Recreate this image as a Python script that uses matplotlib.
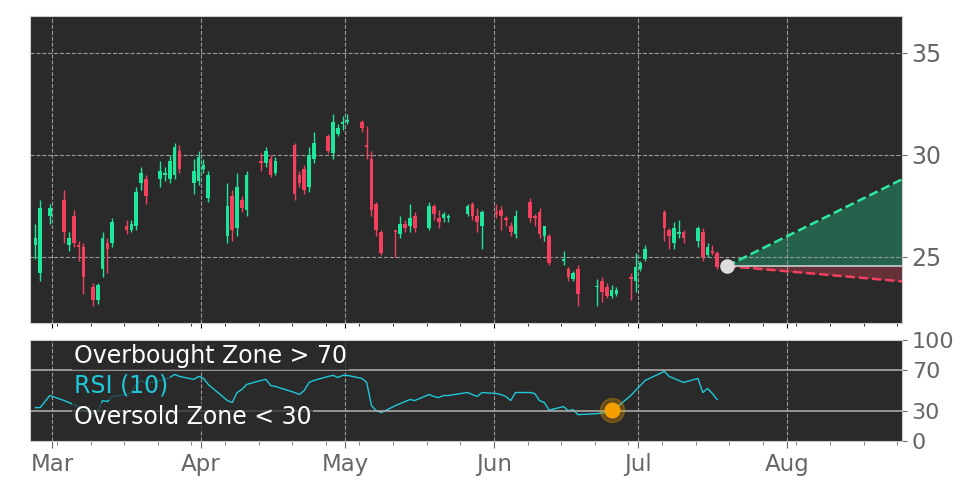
import matplotlib
matplotlib.use("Agg")
import matplotlib.pyplot as plt
import numpy as np
import pandas as pd

base_date = pd.Timestamp("2020-03-01")
day_offsets = [-4,-3,-1,2,3,4,5,6,8,9,10,11,12,15,16,17,18,19,22,23,24,25,26,29,30,31,32,
               36,37,38,39,40,43,44,45,46,50,51,52,53,54,57,58,59,60,61,64,65,66,67,68,
               71,72,73,74,75,78,79,80,81,82,86,87,88,89,92,93,94,95,96,99,100,101,102,103,
               106,107,108,109,113,114,115,116,117,120,121,122,123,127,128,129,130,131,
               134,135,136,137,138]
opens = [25.6,24.2,27.0,27.8,25.6,27.0,25.6,25.5,23.5,22.9,24.4,25.7,25.7,26.5,26.3,26.5,28.6,28.8,
         28.8,29.0,28.8,29.0,30.2,28.6,28.7,29.3,27.9,26.0,28.0,26.4,27.8,27.3,29.7,29.6,29.8,29.1,
         30.5,29.0,29.3,28.4,29.8,30.9,30.1,31.0,31.5,31.6,31.6,30.5,29.8,27.6,26.2,
         26.3,26.1,26.6,26.5,27.0,26.4,27.5,26.9,26.9,26.9,27.1,27.6,27.0,26.5,
         27.2,27.3,26.9,26.5,26.1,27.7,27.0,27.2,26.0,26.0,
         24.8,24.4,23.9,24.4,23.5,23.8,23.5,23.1,23.2,24.0,23.8,24.4,24.9,
         27.2,26.3,25.7,26.1,26.2,25.8,26.2,25.1,25.3,25.2]
closes = [25.9,27.4,27.4,26.2,25.9,25.7,25.5,24.0,22.9,23.6,25.9,25.4,26.7,26.3,26.6,28.2,29.1,28.0,
          29.2,29.1,29.7,30.4,29.3,29.2,29.9,29.5,29.0,27.5,26.3,28.4,27.4,29.0,29.6,30.2,29.0,29.7,
          28.1,28.6,28.3,30.0,30.6,30.2,31.6,31.3,31.6,31.7,31.3,30.4,27.3,26.3,25.2,
          26.2,26.6,26.4,26.9,26.4,27.5,27.1,26.7,27.1,27.0,27.5,27.0,26.7,27.2,
          27.1,27.0,26.8,26.2,27.0,26.9,26.9,26.1,26.5,24.7,
          24.9,24.0,24.2,23.2,23.5,23.3,23.1,23.4,23.4,23.9,24.5,24.7,25.4,
          26.4,26.0,26.4,26.2,25.9,26.4,25.0,25.5,25.2,24.5]
highs = [26.6,27.8,27.6,28.3,26.2,27.3,25.8,25.7,23.7,23.7,26.2,25.9,26.9,26.8,26.8,28.4,29.4,29.0,
         29.7,29.4,30.0,30.6,30.5,29.8,30.2,29.8,29.2,28.6,28.3,29.1,28.0,29.2,30.1,30.4,30.0,29.9,
         30.6,29.2,29.5,30.4,31.1,31.0,32.0,31.5,31.9,32.0,31.7,31.4,30.2,27.7,26.3,
         26.3,27.0,26.8,27.6,27.2,27.7,27.6,27.3,27.2,27.1,27.6,27.7,27.4,27.3,
         27.6,27.5,27.0,26.7,27.3,27.9,27.1,27.4,26.3,26.1,
         25.3,24.5,24.3,24.6,23.9,24.0,23.7,23.6,23.5,24.2,25.2,24.8,25.6,
         27.3,26.4,26.7,26.8,26.3,26.5,26.4,25.7,25.6,25.3]
lows = [24.9,23.8,26.6,25.7,25.3,25.5,24.8,23.2,22.6,22.7,24.0,24.2,25.5,26.1,26.2,26.3,28.3,27.6,
        28.4,28.7,28.6,28.8,29.1,28.1,28.5,29.1,27.7,25.7,25.8,26.0,27.2,27.0,29.2,29.4,28.9,29.0,
        27.8,28.4,28.1,28.2,29.6,30.1,29.8,30.9,31.2,31.5,31.1,29.8,27.0,26.0,25.1,
        25.0,25.9,26.2,26.2,26.2,26.3,26.8,26.4,26.7,26.7,27.0,26.8,26.2,25.4,
        26.9,26.3,26.5,26.0,25.9,26.7,26.5,25.9,25.8,24.6,
        24.6,23.8,23.8,22.6,22.6,22.8,23.0,23.0,23.1,22.9,23.3,24.3,24.8,
        25.8,25.4,25.4,25.9,25.7,25.5,24.8,25.0,25.1,24.4]
rsi = [33,33,45,40,38,36,34,31,27,30,40,39,44,46,48,56,60,57,60,61,63,66,64,61,64,62,56,
       40,38,48,51,56,60,61,55,54,48,46,50,58,60,64,65,63,65,65,62,58,35,30,28,
       35,37,39,41,40,46,44,43,45,45,48,46,44,48,47,46,44,40,48,48,47,40,38,30.5,
       34,30,31,26,27,27.6,28,31,33,45,50,55,60,69,64,62,60,58,62,48,52,47,41]
rsi_signal_day = 116
rsi_signal_value = 31
forecast_days = [140.5, 177]
forecast_start = 24.55
forecast_upper = 28.8
forecast_lower = 23.8
month_labels = ["Mar", "Apr", "May", "Jun", "Jul", "Aug"]

dates = [base_date + pd.Timedelta(days=d + 0.5) for d in day_offsets]
x = matplotlib.dates.date2num(dates)
fd = matplotlib.dates.date2num([base_date + pd.Timedelta(days=d) for d in forecast_days])

BG = "#2a2a2a"
GREEN = "#1ee69a"
RED = "#f2405d"
TXT = "#666666"

fig = plt.figure(figsize=(9.72, 4.86), dpi=100)
ax = fig.add_axes([0.031, 0.335, 0.897, 0.632])
ax2 = fig.add_axes([0.031, 0.093, 0.897, 0.207], sharex=ax)
for a in (ax, ax2):
    a.set_facecolor(BG)
    for s in a.spines.values():
        s.set_color("#cccccc")

for xi, o, h, l, c in zip(x, opens, highs, lows, closes):
    col = GREEN if c >= o else RED
    ax.vlines(xi, l, h, color=col, lw=1, zorder=3)
    ax.bar(xi, max(abs(c - o), 0.08), bottom=min(o, c), width=0.75, color=col, zorder=4)

ax.plot(fd, [forecast_start, forecast_upper], ls="--", color="#2ee8a0", lw=1.8, zorder=5)
ax.plot(fd, [forecast_start, forecast_lower], ls="--", color=RED, lw=1.8, zorder=5)
ax.plot(fd, [forecast_start, forecast_start], color="#cccccc", lw=1.2, zorder=5)
ax.fill_between(fd, [forecast_start]*2, [forecast_start, forecast_upper], color="#1ee69a", alpha=0.3, lw=0)
ax.fill_between(fd, [forecast_start]*2, [forecast_start, forecast_lower], color=RED, alpha=0.3, lw=0)
ax.scatter([fd[0]], [forecast_start], s=90, color="#dddddd", zorder=6)

ax.set_ylim(21.75, 36.8)
ax.set_xlim(matplotlib.dates.date2num(base_date - pd.Timedelta(days=4.6)),
            matplotlib.dates.date2num(base_date + pd.Timedelta(days=177)))
ax.yaxis.tick_right()
ax.set_yticks([25, 30, 35])
ax.tick_params(axis="y", labelsize=17, colors=TXT, labelcolor=TXT)
ax.tick_params(axis="x", labelbottom=False)
ax.grid(True, ls="--", color="#999999", lw=0.8)

ax2.plot(x, rsi, color="#1fc8d8", lw=1)
ax2.axhline(70, color="#aaaaaa", lw=1.2)
ax2.axhline(30, color="#aaaaaa", lw=1.2)
sx = matplotlib.dates.date2num(base_date + pd.Timedelta(days=rsi_signal_day + 0.5))
ax2.scatter([sx], [rsi_signal_value], s=300, color="#f5a000", alpha=0.3, zorder=5)
ax2.scatter([sx], [rsi_signal_value], s=110, color="#f5a000", zorder=6)
ax2.set_ylim(0, 100)
ax2.yaxis.tick_right()
ax2.set_yticks([0, 30, 70, 100])
ax2.tick_params(axis="y", labelsize=16, colors=TXT, labelcolor=TXT)
ax2.grid(True, axis="x", ls="--", color="#999999", lw=0.8)
box = dict(facecolor=BG, alpha=0.75, edgecolor="none", pad=1.5)
ax2.text(0.05, 0.84, "Overbought Zone > 70", transform=ax2.transAxes, color="white", fontsize=17, va="center", bbox=box)
ax2.text(0.05, 0.55, "RSI (10)", transform=ax2.transAxes, color="#1fc8d8", fontsize=17, va="center", bbox=box)
ax2.text(0.05, 0.24, "Oversold Zone < 30", transform=ax2.transAxes, color="white", fontsize=17, va="center", bbox=box)

month_ticks = matplotlib.dates.date2num(pd.date_range("2020-03-01", periods=6, freq="MS"))
ax2.set_xticks(month_ticks)
ax2.set_xticklabels(month_labels)
ax2.xaxis.set_minor_locator(matplotlib.dates.WeekdayLocator(byweekday=0))
ax2.tick_params(axis="x", labelsize=16.5, colors=TXT, labelcolor=TXT, length=5)
ax2.tick_params(axis="x", which="minor", length=3, colors=TXT)

fig.savefig("out.png", dpi=100, facecolor="white")
